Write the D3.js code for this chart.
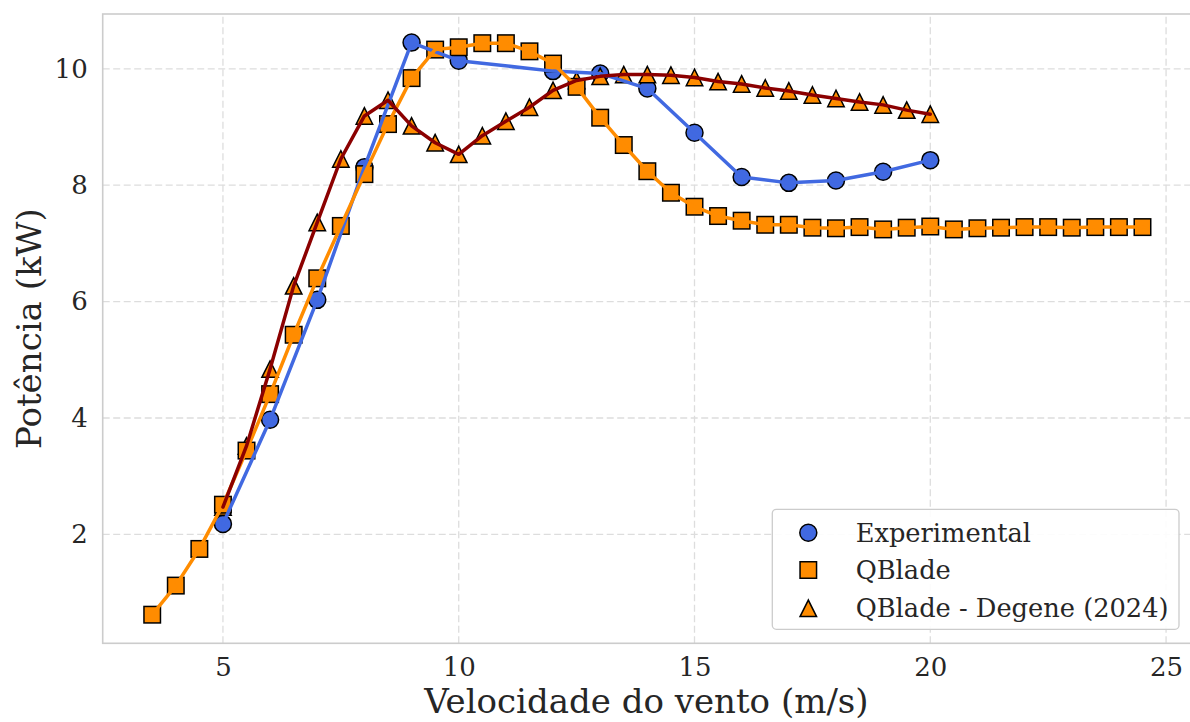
<!DOCTYPE html>
<html>
<head>
<meta charset="utf-8">
<script src="https://cdn.jsdelivr.net/npm/d3@7"></script>
<style>
  html, body { margin: 0; padding: 0; background: #ffffff; }
  svg { display: block; }
  text { font-family: "DejaVu Serif", serif; fill: #262626; }
</style>
</head>
<body>
<svg id="chart" width="1190" height="722"></svg>
<script>
// Wind speed (m/s) and power (kW) for each series
const expSpeed = [5, 6, 7, 8, 9, 10, 12, 13, 14, 15, 16, 17, 18, 19, 20];
const expPower = [2.18, 3.97, 6.03, 8.31, 10.45, 10.14, 9.96, 9.92, 9.66, 8.90, 8.14, 8.04, 8.08, 8.23, 8.43];

const qbSpeed = [3.5, 4, 4.5, 5, 5.5, 6, 6.5, 7, 7.5, 8, 8.5, 9, 9.5, 10, 10.5, 11, 11.5, 12, 12.5, 13,
                 13.5, 14, 14.5, 15, 15.5, 16, 16.5, 17, 17.5, 18, 18.5, 19, 19.5, 20, 20.5, 21, 21.5, 22,
                 22.5, 23, 23.5, 24, 24.5];
const qbPower = [0.62, 1.12, 1.75, 2.51, 3.44, 4.41, 5.43, 6.40, 7.30, 8.19, 9.05, 9.84, 10.33, 10.37, 10.44, 10.44, 10.30, 10.09, 9.69, 9.16,
                 8.69, 8.24, 7.87, 7.63, 7.47, 7.39, 7.32, 7.32, 7.27, 7.26, 7.28, 7.24, 7.27, 7.29, 7.24, 7.26, 7.27, 7.28,
                 7.28, 7.27, 7.28, 7.28, 7.28];

const dgSpeed = [5, 5.5, 6, 6.5, 7, 7.5, 8, 8.5, 9, 9.5, 10, 10.5, 11, 11.5, 12, 12.5, 13, 13.5, 14, 14.5,
                 15, 15.5, 16, 16.5, 17, 17.5, 18, 18.5, 19, 19.5, 20];
const dgPower = [2.47, 3.52, 4.84, 6.27, 7.36, 8.45, 9.19, 9.46, 9.02, 8.73, 8.53, 8.85, 9.10, 9.34, 9.63, 9.80, 9.87, 9.90, 9.90, 9.89,
                 9.85, 9.78, 9.74, 9.67, 9.62, 9.55, 9.49, 9.43, 9.38, 9.29, 9.22];

const xTicks = [5, 10, 15, 20, 25];
const yTicks = [2, 4, 6, 8, 10];
const legendLabels = ["Experimental", "QBlade", "QBlade - Degene (2024)"];

const W = 1190, H = 722;
const margin = { top: 14, right: -2, bottom: 78.7, left: 102.7 };
const svg = d3.select("#chart");

const allX = expSpeed.concat(qbSpeed, dgSpeed);
const allY = expPower.concat(qbPower, dgPower);
const pad = (lo, hi) => { const m = (hi - lo) * 0.05; return [lo - m, hi + m]; };

const x = d3.scaleLinear().domain(pad(d3.min(allX), d3.max(allX)))
  .range([margin.left, W - margin.right]);
const y = d3.scaleLinear().domain(pad(d3.min(allY), d3.max(allY)))
  .range([H - margin.bottom, margin.top]);

const x0 = margin.left, x1 = W - margin.right, y0 = H - margin.bottom, y1 = margin.top;

// grid
const grid = svg.append("g");
grid.selectAll("line.gx").data(xTicks).join("line")
  .attr("x1", d => x(d)).attr("x2", d => x(d)).attr("y1", y0).attr("y2", y1)
  .attr("stroke", "#dddddd").attr("stroke-width", 1.3).attr("stroke-dasharray", "7,3.5");
grid.selectAll("line.gy").data(yTicks).join("line")
  .attr("x1", x0).attr("x2", x1).attr("y1", d => y(d)).attr("y2", d => y(d))
  .attr("stroke", "#dddddd").attr("stroke-width", 1.3).attr("stroke-dasharray", "7,3.5");

// axes (labels only, no tick marks)
const xAxis = svg.append("g").attr("transform", `translate(0,${y0})`)
  .call(d3.axisBottom(x).tickValues(xTicks).tickSize(0).tickPadding(14).tickFormat(d3.format("d")));
const yAxis = svg.append("g").attr("transform", `translate(${x0},0)`)
  .call(d3.axisLeft(y).tickValues(yTicks).tickSize(0).tickPadding(15).tickFormat(d3.format("d")));
[xAxis, yAxis].forEach(a => {
  a.select(".domain").remove();
  a.selectAll("text").style("font-family", "DejaVu Serif").style("font-size", "26px").attr("fill", "#262626");
});

// frame
svg.append("rect").attr("x", x0).attr("y", y1).attr("width", x1 - x0).attr("height", y0 - y1)
  .attr("fill", "none").attr("stroke", "#cccccc").attr("stroke-width", 1.6);

// axis titles
svg.append("text").attr("x", (x0 + Math.min(x1, W)) / 2).attr("y", 713)
  .attr("text-anchor", "middle").style("font-size", "34px").text("Velocidade do vento (m/s)");
svg.append("text").attr("transform", `translate(41,${(y0 + y1) / 2}) rotate(-90)`)
  .attr("text-anchor", "middle").style("font-size", "34px").text("Potência (kW)");

const plot = svg.append("g");

const tri = (cx, cy, s) => `M${cx},${cy - s / 2}L${cx - s / 2},${cy + s / 2}L${cx + s / 2},${cy + s / 2}Z`;
const markerStroke = { stroke: "#000000", "stroke-width": 1.5 };

function drawCircles(g, xs, ys, fill) {
  g.selectAll(null).data(xs).join("circle")
    .attr("cx", d => x(d)).attr("cy", (d, i) => y(ys[i])).attr("r", 8.5)
    .attr("fill", fill).attr("stroke", markerStroke.stroke).attr("stroke-width", markerStroke["stroke-width"]);
}
function drawSquares(g, xs, ys, fill) {
  const s = 16.5;
  g.selectAll(null).data(xs).join("rect")
    .attr("x", d => x(d) - s / 2).attr("y", (d, i) => y(ys[i]) - s / 2).attr("width", s).attr("height", s)
    .attr("fill", fill).attr("stroke", markerStroke.stroke).attr("stroke-width", markerStroke["stroke-width"]);
}
function drawTriangles(g, xs, ys, fill) {
  g.selectAll(null).data(xs).join("path")
    .attr("d", (d, i) => tri(x(d), y(ys[i]), 16.5))
    .attr("fill", fill).attr("stroke", markerStroke.stroke).attr("stroke-width", markerStroke["stroke-width"])
    .attr("stroke-linejoin", "miter");
}

// markers sit below the connecting lines
drawCircles(plot.append("g"), expSpeed, expPower, "#4169e1");
drawTriangles(plot.append("g"), dgSpeed, dgPower, "#ff8c00");
drawSquares(plot.append("g"), qbSpeed, qbPower, "#ff8c00");

const line = (xs, ys) => d3.line().x(d => x(d)).y((d, i) => y(ys[i]))(xs);
const lineW = 3.5;
plot.append("path").attr("d", line(expSpeed, expPower)).attr("fill", "none")
  .attr("stroke", "#4169e1").attr("stroke-width", lineW).attr("stroke-linejoin", "round").attr("stroke-linecap", "round");
plot.append("path").attr("d", line(qbSpeed, qbPower)).attr("fill", "none")
  .attr("stroke", "#ff8c00").attr("stroke-width", lineW).attr("stroke-linejoin", "round").attr("stroke-linecap", "round");
plot.append("path").attr("d", line(dgSpeed, dgPower)).attr("fill", "none")
  .attr("stroke", "#8b0000").attr("stroke-width", lineW).attr("stroke-linejoin", "round").attr("stroke-linecap", "round");

// legend
const lg = svg.append("g");
lg.append("rect").attr("x", 772.3).attr("y", 509.3).attr("width", 406.7).attr("height", 120).attr("rx", 4)
  .attr("fill", "#ffffff").attr("fill-opacity", 0.9).attr("stroke", "#cccccc").attr("stroke-width", 1.3);
const rowsY = [532.7, 570, 608.3];
const mx = 808.3;
lg.append("circle").attr("cx", mx).attr("cy", rowsY[0]).attr("r", 8.5)
  .attr("fill", "#4169e1").attr("stroke", "#000").attr("stroke-width", 1.5);
lg.append("rect").attr("x", mx - 8.25).attr("y", rowsY[1] - 8.25).attr("width", 16.5).attr("height", 16.5)
  .attr("fill", "#ff8c00").attr("stroke", "#000").attr("stroke-width", 1.5);
lg.append("path").attr("d", tri(mx, rowsY[2], 16.5))
  .attr("fill", "#ff8c00").attr("stroke", "#000").attr("stroke-width", 1.5);
lg.selectAll("text.lbl").data(legendLabels).join("text")
  .attr("x", 855.7).attr("y", (d, i) => rowsY[i]).attr("dy", "0.35em")
  .style("font-size", "25.7px").text(d => d);
</script>
</body>
</html>
